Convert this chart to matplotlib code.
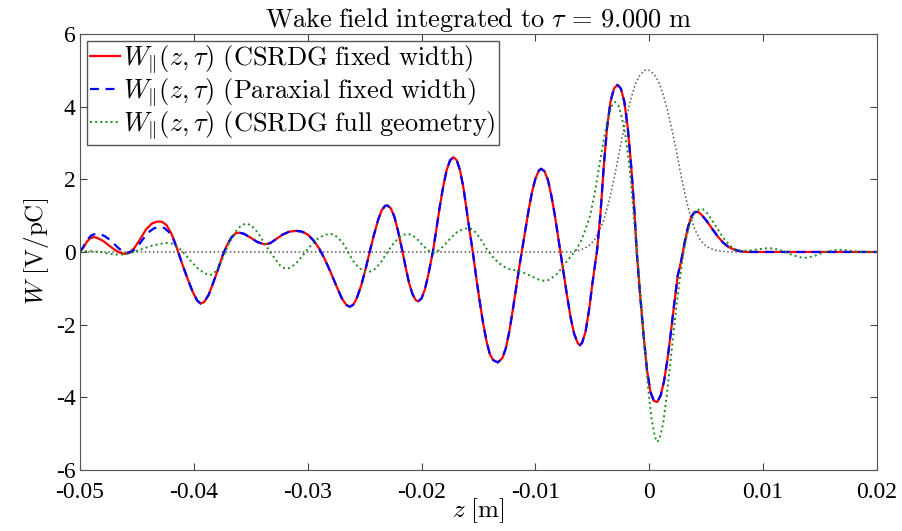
#!/usr/bin/env python3
"""Wake field integrated to tau = 9 m: CSRDG vs paraxial vs full geometry."""

import matplotlib
matplotlib.use("Agg")
import matplotlib.pyplot as plt

# CSRDG fixed width (red, solid)
z_csrdg = [-0.0500, -0.0497, -0.0494, -0.0491, -0.0488, -0.0485, -0.0480, -0.0475,
           -0.0470, -0.0465, -0.0461, -0.0457, -0.0452, -0.0447, -0.0442, -0.0437,
           -0.0432, -0.0428, -0.0424, -0.0420, -0.0417, -0.0414, -0.0410, -0.0405,
           -0.0401, -0.0397, -0.0394, -0.0391, -0.0387, -0.0383, -0.0379, -0.0375,
           -0.0371, -0.0367, -0.0363, -0.0360, -0.0356, -0.0350, -0.0344, -0.0338,
           -0.0333, -0.0328, -0.0322, -0.0316, -0.0310, -0.0305, -0.0300, -0.0295,
           -0.0290, -0.0285, -0.0280, -0.0275, -0.0270, -0.0266, -0.0263, -0.0260,
           -0.0257, -0.0253, -0.0249, -0.0246, -0.0242, -0.0238, -0.0235, -0.0232,
           -0.0230, -0.0227, -0.0224, -0.0221, -0.0217, -0.0214, -0.0211, -0.0208,
           -0.0205, -0.0203, -0.0200, -0.0197, -0.0194, -0.0190, -0.0187, -0.0184,
           -0.0181, -0.0178, -0.0175, -0.0172, -0.0169, -0.0166, -0.0163, -0.0160,
           -0.0158, -0.0155, -0.0152, -0.0149, -0.0146, -0.0143, -0.0140, -0.0137,
           -0.0133, -0.0129, -0.0126, -0.0123, -0.0120, -0.0117, -0.0114, -0.0112,
           -0.0109, -0.0106, -0.0103, -0.0100, -0.0097, -0.0095, -0.0092, -0.0089,
           -0.0086, -0.0083, -0.0080, -0.0078, -0.0075, -0.0072, -0.0069, -0.0066,
           -0.0063, -0.0061, -0.0059, -0.0056, -0.0053, -0.0050, -0.0047, -0.0046,
           -0.0043, -0.0040, -0.0037, -0.0034, -0.0031, -0.0028, -0.0025, -0.0022,
           -0.0019, -0.0016, -0.0013, -0.0011, -0.0008, -0.0005, -0.0002, 0.0001,
           0.0004, 0.0007, 0.0010, 0.0013, 0.0016, 0.0019, 0.0022, 0.0025,
           0.0028, 0.0031, 0.0034, 0.0037, 0.0040, 0.0043, 0.0046, 0.0050,
           0.0055, 0.0060, 0.0065, 0.0070, 0.0075, 0.0080, 0.0085, 0.0200]
w_csrdg = [0.00, 0.12, 0.28, 0.38, 0.41, 0.39, 0.31, 0.19,
           0.07, -0.02, -0.05, -0.03, 0.12, 0.36, 0.62, 0.78,
           0.84, 0.83, 0.74, 0.52, 0.30, 0.02, -0.35, -0.78,
           -1.10, -1.34, -1.42, -1.38, -1.18, -0.85, -0.50, -0.12,
           0.18, 0.40, 0.52, 0.53, 0.50, 0.39, 0.27, 0.21,
           0.24, 0.35, 0.48, 0.56, 0.58, 0.56, 0.48, 0.32,
           0.10, -0.20, -0.55, -0.92, -1.28, -1.46, -1.51, -1.45,
           -1.28, -0.92, -0.45, -0.05, 0.45, 0.90, 1.15, 1.27,
           1.28, 1.20, 0.98, 0.62, 0.05, -0.42, -0.85, -1.16,
           -1.33, -1.36, -1.28, -1.02, -0.62, 0.02, 0.62, 1.25,
           1.80, 2.25, 2.52, 2.61, 2.52, 2.22, 1.72, 1.05,
           0.62, 0.00, -0.70, -1.35, -1.95, -2.45, -2.82, -2.98,
           -3.04, -2.92, -2.65, -2.20, -1.62, -1.00, -0.38, 0.00,
           0.58, 1.15, 1.65, 2.02, 2.24, 2.29, 2.22, 1.98,
           1.55, 1.02, 0.40, 0.00, -0.62, -1.25, -1.82, -2.25,
           -2.50, -2.57, -2.50, -2.20, -1.62, -0.88, -0.20, 0.00,
           1.00, 2.35, 3.45, 4.15, 4.50, 4.60, 4.50, 4.15,
           3.45, 2.40, 1.10, 0.00, -1.20, -2.30, -3.25, -3.85,
           -4.10, -4.13, -3.95, -3.55, -2.95, -2.20, -1.40, -0.65,
           -0.25, 0.25, 0.68, 0.98, 1.10, 1.10, 1.02, 0.87,
           0.65, 0.43, 0.25, 0.13, 0.06, 0.02, 0.00, 0.00]

# Paraxial fixed width (blue, dashed): same as CSRDG except the first wiggles
z_parax = [-0.0500, -0.0497, -0.0494, -0.0490, -0.0486, -0.0482, -0.0478, -0.0474,
           -0.0470, -0.0466, -0.0462, -0.0459, -0.0455, -0.0450, -0.0445, -0.0440,
           -0.0435, -0.0430, -0.0426, -0.0422, -0.0418, -0.0414] + z_csrdg[22:]
w_parax = [0.00, 0.15, 0.32, 0.46, 0.50, 0.49, 0.43, 0.34,
           0.22, 0.10, 0.01, -0.02, 0.00, 0.12, 0.34, 0.54,
           0.65, 0.69, 0.66, 0.55, 0.35, 0.02] + w_csrdg[22:]

# CSRDG full geometry (green, dotted)
z_full = [-0.0500, -0.0490, -0.0482, -0.0476, -0.0470, -0.0464, -0.0458, -0.0451,
          -0.0444, -0.0437, -0.0430, -0.0424, -0.0419, -0.0414, -0.0409, -0.0403,
          -0.0397, -0.0391, -0.0386, -0.0382, -0.0378, -0.0374, -0.0370, -0.0366,
          -0.0362, -0.0358, -0.0354, -0.0350, -0.0346, -0.0342, -0.0338, -0.0333,
          -0.0328, -0.0324, -0.0320, -0.0316, -0.0311, -0.0306, -0.0301, -0.0296,
          -0.0291, -0.0286, -0.0281, -0.0277, -0.0273, -0.0268, -0.0264, -0.0260,
          -0.0255, -0.0250, -0.0246, -0.0241, -0.0236, -0.0231, -0.0226, -0.0221,
          -0.0216, -0.0212, -0.0208, -0.0204, -0.0199, -0.0194, -0.0189, -0.0184,
          -0.0179, -0.0174, -0.0169, -0.0164, -0.0159, -0.0155, -0.0151, -0.0147,
          -0.0143, -0.0138, -0.0133, -0.0128, -0.0123, -0.0118, -0.0113, -0.0108,
          -0.0103, -0.0098, -0.0093, -0.0089, -0.0085, -0.0081, -0.0077, -0.0073,
          -0.0069, -0.0065, -0.0060, -0.0056, -0.0052, -0.0048, -0.0044, -0.0040,
          -0.0036, -0.0033, -0.0030, -0.0027, -0.0024, -0.0021, -0.0018, -0.0016,
          -0.0013, -0.0010, -0.0007, -0.0004, -0.0001, 0.0002, 0.0005, 0.0007,
          0.0009, 0.0012, 0.0015, 0.0018, 0.0021, 0.0024, 0.0027, 0.0030,
          0.0033, 0.0036, 0.0040, 0.0044, 0.0047, 0.0051, 0.0056, 0.0061,
          0.0066, 0.0071, 0.0076, 0.0081, 0.0088, 0.0095, 0.0102, 0.0108,
          0.0115, 0.0121, 0.0127, 0.0133, 0.0138, 0.0144, 0.0150, 0.0157,
          0.0163, 0.0170, 0.0177, 0.0185, 0.0200]
w_full = [0.02, 0.02, 0.00, -0.04, -0.07, -0.07, -0.05, 0.02,
          0.10, 0.17, 0.22, 0.25, 0.23, 0.14, -0.02, -0.24,
          -0.44, -0.58, -0.64, -0.58, -0.40, -0.12, 0.18, 0.43,
          0.62, 0.74, 0.78, 0.74, 0.62, 0.44, 0.24, 0.00,
          -0.22, -0.38, -0.46, -0.44, -0.34, -0.16, 0.04, 0.22,
          0.37, 0.46, 0.50, 0.48, 0.38, 0.20, -0.04, -0.25,
          -0.44, -0.54, -0.55, -0.47, -0.30, -0.05, 0.18, 0.36,
          0.47, 0.50, 0.46, 0.36, 0.18, 0.04, -0.02, 0.06,
          0.22, 0.40, 0.54, 0.62, 0.66, 0.62, 0.48, 0.30,
          0.09, -0.12, -0.28, -0.40, -0.47, -0.50, -0.54, -0.60,
          -0.68, -0.75, -0.79, -0.78, -0.70, -0.60, -0.45, -0.28,
          -0.12, 0.02, 0.30, 0.62, 1.00, 1.60, 2.35, 3.10,
          3.70, 4.02, 4.13, 4.02, 3.70, 3.20, 2.50, 1.90,
          0.75, -0.30, -1.40, -2.65, -3.75, -4.60, -5.10, -5.23,
          -5.15, -4.75, -4.05, -3.20, -2.30, -1.45, -0.70, -0.05,
          0.45, 0.82, 1.08, 1.18, 1.18, 1.06, 0.83, 0.58,
          0.35, 0.17, 0.07, 0.03, 0.04, 0.07, 0.10, 0.10,
          0.05, -0.03, -0.10, -0.15, -0.16, -0.12, -0.05, 0.02,
          0.05, 0.06, 0.03, 0.00, 0.00]

# bunch profile (gray, dotted, not in the legend)
z_bunch = [-0.0500, -0.0068, -0.0062, -0.0057, -0.0052, -0.0048, -0.0044, -0.0040,
           -0.0036, -0.0032, -0.0028, -0.0024, -0.0020, -0.0016, -0.0012, -0.0008,
           -0.0004, 0.0000, 0.0004, 0.0008, 0.0012, 0.0016, 0.0020, 0.0024,
           0.0028, 0.0032, 0.0036, 0.0040, 0.0044, 0.0048, 0.0053, 0.0058,
           0.0064, 0.0070, 0.0200]
w_bunch = [0.00, 0.00, 0.04, 0.10, 0.20, 0.34, 0.56, 0.88,
           1.32, 1.86, 2.48, 3.12, 3.72, 4.24, 4.64, 4.88,
           5.00, 5.00, 4.90, 4.70, 4.35, 3.90, 3.35, 2.75,
           2.08, 1.50, 1.00, 0.62, 0.37, 0.21, 0.10, 0.05,
           0.02, 0.00, 0.00]

x_ticks = [-0.05, -0.04, -0.03, -0.02, -0.01, 0, 0.01, 0.02]
x_tick_labels = ["-0.05", "-0.04", "-0.03", "-0.02", "-0.01", "0", "0.01", "0.02"]
y_ticks = [-6, -4, -2, 0, 2, 4, 6]

plt.rcParams["mathtext.fontset"] = "cm"
plt.rcParams["font.family"] = ["Liberation Serif", "DejaVu Serif"]
plt.rcParams["axes.unicode_minus"] = False

fig = plt.figure(figsize=(9.03, 5.31), dpi=100)
ax = fig.add_axes([0.0886, 0.115, 0.8826, 0.821])

ax.plot(z_bunch, w_bunch, color="#555555", linestyle=":", linewidth=1.1)
ax.plot(z_csrdg, w_csrdg, color="red", linewidth=1.6,
        label=r"$W_{\|}(z,\tau)\ \mathrm{(CSRDG\ fixed\ width)}$")
ax.plot(z_parax, w_parax, color="blue", linewidth=1.6, dashes=(4, 3),
        label=r"$W_{\|}(z,\tau)\ \mathrm{(Paraxial\ fixed\ width)}$")
ax.plot(z_full, w_full, color="#1a8a1a", linestyle=":", linewidth=1.4,
        label=r"$W_{\|}(z,\tau)\ \mathrm{(CSRDG\ full\ geometry)}$")

ax.set_xlim(-0.05, 0.02)
ax.set_ylim(-6, 6)
ax.set_xticks(x_ticks)
ax.set_xticklabels(x_tick_labels)
ax.set_yticks(y_ticks)
ax.tick_params(direction="in", top=True, right=True, labelsize=17,
               color="#444444", length=5)
ax.tick_params(axis="x", pad=9)
ax.tick_params(axis="y", pad=3)
for s in ax.spines.values():
    s.set_color("#555555")
    s.set_linewidth(0.8)

ax.set_title(r"$\mathrm{Wake\ field\ integrated\ to\ }\tau\,=\,9.000\ \mathrm{m}$",
             fontsize=19, pad=5)
ax.set_xlabel(r"$z\ \mathrm{[m]}$", fontsize=18, labelpad=-5)
ax.set_ylabel(r"$W\ \mathrm{[V/pC]}$", fontsize=18, labelpad=4)

ax.legend(loc="upper left", fontsize=19, handlelength=1.15, handletextpad=0.1,
          borderpad=0.12, labelspacing=0.02, borderaxespad=0.25,
          fancybox=False, edgecolor="#555555", framealpha=1)

plt.savefig("out.png", dpi=100)
plt.close()
